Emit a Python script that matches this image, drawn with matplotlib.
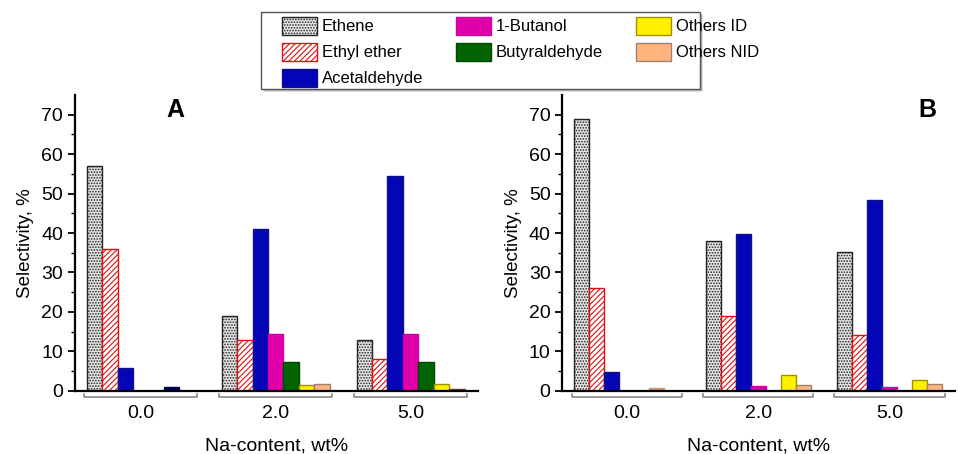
import matplotlib
matplotlib.use('Agg')
import matplotlib.pyplot as plt
from matplotlib.patches import Patch, Rectangle
import numpy as np

plt.rcParams['font.family'] = ['Liberation Sans', 'DejaVu Sans']
plt.rcParams['hatch.linewidth'] = 0.8

groups = ['0.0', '2.0', '5.0']
products = ['Ethene', 'Ethyl ether', 'Acetaldehyde', '1-Butanol',
            'Butyraldehyde', 'Others ID', 'Others NID']

# selectivity, % (rows = products, cols = Na content groups)
panel_a = [
    [57.0, 19.0, 13.0],
    [36.0, 13.0, 8.0],
    [5.7, 41.0, 54.5],
    [0.0, 14.5, 14.5],
    [0.0, 7.2, 7.3],
    [0.9, 1.5, 1.8],
    [0.0, 1.8, 0.5],
]
panel_b = [
    [69.0, 38.0, 35.2],
    [26.0, 19.0, 14.2],
    [4.8, 39.8, 48.3],
    [0.0, 1.2, 1.0],
    [0.0, 0.0, 0.0],
    [0.7, 4.0, 2.7],
    [0.0, 1.6, 1.8],
]

face_colors = ['#e6e6e6', 'white', '#0505b8', '#e000aa', '#006400', '#fff000', '#ffb47e']
edge_colors = ['#222222', '#e01010', '#10108a', '#d000a0', '#004a00', '#a09000', '#a08070']
hatches = ['......', '//////', None, None, None, None, None]
# a few bars in the original are drawn in odd colours
overrides_a = {(5, 0): '#000050', (6, 2): '#5a3f30'}
overrides_b = {(5, 0): '#c89a76'}

n = len(products)
width = 0.8 / n
x = np.arange(len(groups))

W, H = 958, 454
fig = plt.figure(figsize=(W / 100, H / 100), dpi=100)
ax_a = fig.add_axes([0.078, 0.139, 0.421, 0.652])
ax_b = fig.add_axes([0.587, 0.139, 0.41, 0.652])

for ax, data, overrides, tag, tag_x in [(ax_a, panel_a, overrides_a, 'A', 0.25),
                                        (ax_b, panel_b, overrides_b, 'B', 0.93)]:
    for i in range(n):
        pos = x - 0.4 + width * (i + 0.5)
        bars = ax.bar(pos, data[i], width, color=face_colors[i], edgecolor=edge_colors[i],
                      hatch=hatches[i], linewidth=1.0)
        for (k, j), c in overrides.items():
            if k == i:
                bars[j].set_facecolor(c)
                bars[j].set_edgecolor(c)

    ax.set_xlim(-0.49, 2.5)
    ax.set_ylim(0, 75)
    ax.set_yticks(np.arange(0, 71, 10))
    ax.set_yticks(np.arange(0, 75, 5), minor=True)
    ax.tick_params(axis='y', direction='out', length=5, width=1.3, labelsize=14)
    ax.tick_params(axis='y', which='minor', length=3, width=1)
    ax.set_xticks([])
    for s in ['top', 'right']:
        ax.spines[s].set_visible(False)
    for s in ['left', 'bottom']:
        ax.spines[s].set_linewidth(1.6)
    ax.set_ylabel('Selectivity, %', fontsize=13.5, labelpad=5)
    ax.text(tag_x, 0.95, tag, transform=ax.transAxes, fontsize=18, fontweight='bold',
            ha='center', va='center')

    # group brackets and labels under the axis
    trans = ax.get_xaxis_transform()
    for g, lab in zip(x, groups):
        x0, x1 = g - 0.42, g + 0.42
        ax.plot([x0, x0, x1, x1], [-0.01, -0.022, -0.022, -0.01], color='#888888',
                lw=1.2, transform=trans, clip_on=False)
        ax.text(g, -0.075, lab, transform=trans, ha='center', va='center', fontsize=14)
    ax.text(0.5, -0.185, 'Na-content, wt%', transform=ax.transAxes, ha='center',
            va='center', fontsize=14)

# legend box with a soft shadow, drawn by hand so its size matches the original
bx0, by0, bx1, by1 = 261, 12, 700, 89
for k, alpha in enumerate([0.12, 0.18, 0.25]):
    off = 3 - k
    fig.patches.append(Rectangle(((bx0 + off) / W, 1 - (by1 + off) / H), (bx1 - bx0) / W,
                                 (by1 - by0) / H, transform=fig.transFigure,
                                 facecolor='black', alpha=alpha, edgecolor='none'))
fig.patches.append(Rectangle((bx0 / W, 1 - by1 / H), (bx1 - bx0) / W, (by1 - by0) / H,
                             transform=fig.transFigure, facecolor='white',
                             edgecolor='#555555', linewidth=1.0))

handles = [Patch(facecolor=face_colors[i], edgecolor=edge_colors[i], hatch=hatches[i],
                 linewidth=1.0) for i in range(n)]
leg = fig.legend(handles=handles, labels=products, ncol=3, loc='upper left',
                 bbox_to_anchor=(282 / W, 1 - 17 / H), fontsize=12, handlelength=2.1,
                 handleheight=1.25, handletextpad=0.3, labelspacing=0.5,
                 columnspacing=1.95, frameon=False, borderpad=0, borderaxespad=0)

fig.savefig('out.png', dpi=100)
